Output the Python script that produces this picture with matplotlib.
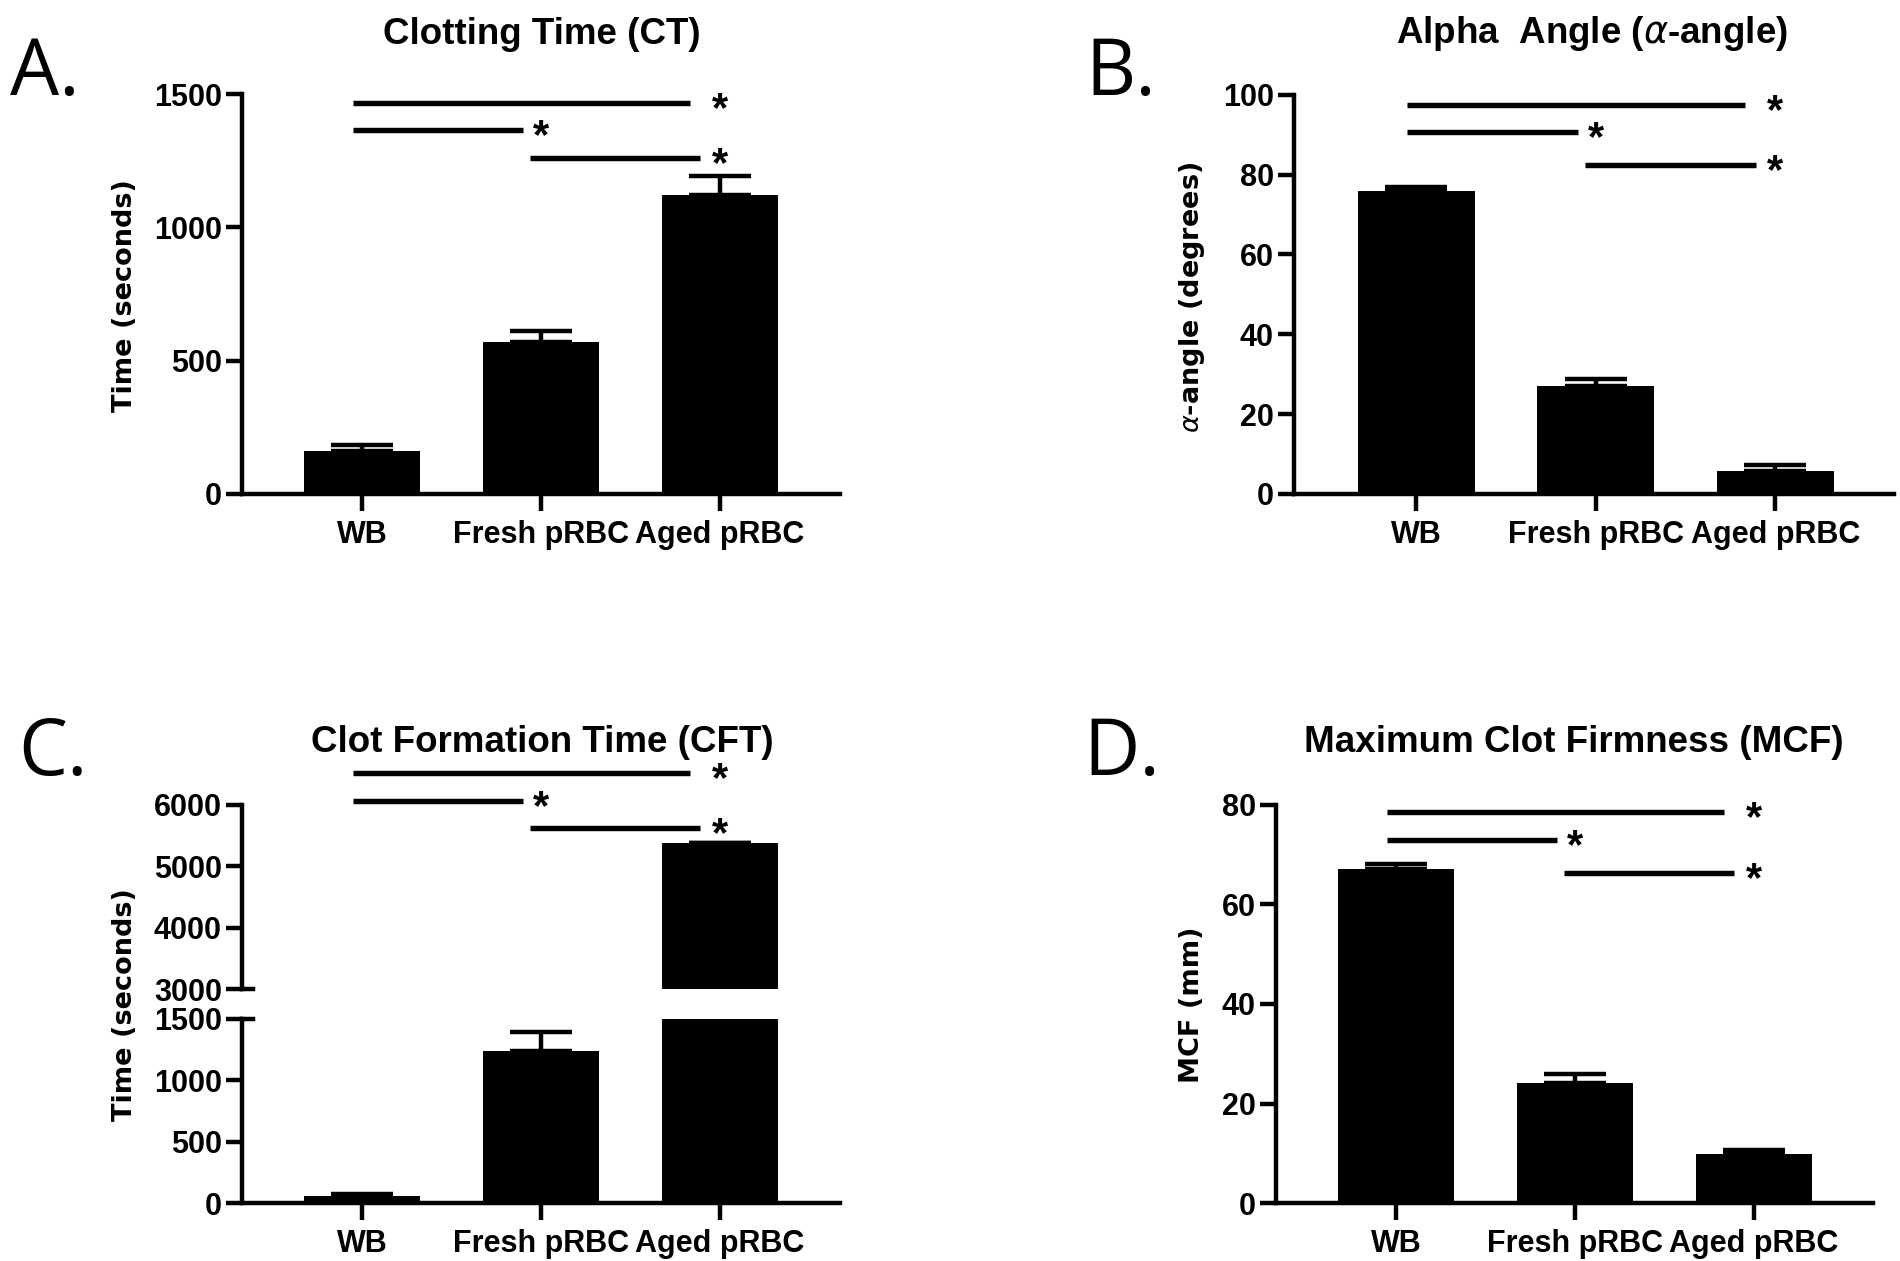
import matplotlib.pyplot as plt
import numpy as np

groups = ["WB", "Fresh pRBC", "Aged pRBC"]

ctMean = [163, 570, 1123]
ctErr = [21, 41, 70]
ctSig = [1468, 1365, 1261]

alphaMean = [75.8, 27.0, 5.8]
alphaErr = [1.0, 1.9, 1.4]
alphaSig = [97.5, 90.7, 82.4]

cftMean = [60, 1240, 5380]
cftErr = [15, 155, 0]
cftSig = [6511, 6060, 5625]

mcfMean = [67.0, 24.2, 10.0]
mcfErr = [1.0, 1.8, 0.8]
mcfSig = [78.4, 72.8, 66.2]

W, H = 1900, 1261
LW = 3.2

plt.rcParams["font.family"] = "Liberation Sans"
plt.rcParams["font.weight"] = "bold"
plt.rcParams["xtick.labelsize"] = 22
plt.rcParams["ytick.labelsize"] = 22
# keep the greek alpha a light italic like the original
plt.rcParams["mathtext.fontset"] = "custom"
plt.rcParams["mathtext.it"] = "DejaVu Sans:italic:weight=normal"
plt.rcParams["mathtext.rm"] = "DejaVu Sans:weight=normal"

labelFont = dict(family="DejaVu Sans", fontweight="bold", fontsize=19.5)
titleFont = dict(family="Liberation Sans", fontweight="bold", fontsize=26.5)
letterFont = dict(family="Open Sans", fontweight="normal", fontsize=56)

fig = plt.figure(figsize=(19, 12.61), dpi=100)
x = np.arange(len(groups))


def axesAt(left, top, right, bottom):
    return fig.add_axes([left / W, 1 - bottom / H, (right - left) / W, (bottom - top) / H])


def figText(px, py, s, **kw):
    fig.text(px / W, 1 - py / H, s, **kw)


def styleAxes(ax, xlim):
    ax.spines["top"].set_visible(False)
    ax.spines["right"].set_visible(False)
    ax.spines["left"].set_linewidth(LW)
    ax.spines["bottom"].set_linewidth(LW)
    ax.tick_params(axis="y", length=11.5, width=LW, pad=3)
    ax.tick_params(axis="x", length=12.5, width=LW, pad=6)
    ax.set_xlim(*xlim)
    ax.set_xticks(x)
    ax.set_xticklabels(groups)


def drawBars(ax, mean, err):
    ax.bar(x, mean, width=0.65, color="black")
    ax.errorbar(x, mean, yerr=[np.zeros(len(err)), err], fmt="none", ecolor="black",
                elinewidth=LW, capsize=22, capthick=LW)


def drawSig(ax, ys):
    spans = [(-0.05, 1.83, 2), (-0.05, 0.9, 1), (0.94, 1.89, 2)]
    for y, (x0, x1, xs) in zip(ys, spans):
        ax.plot([x0, x1], [y, y], color="black", lw=3.9, clip_on=False, solid_capstyle="butt")
        ax.annotate("*", (xs, y), xytext=(0, -13), textcoords="offset points", ha="center",
                    va="baseline", fontsize=30, fontweight="bold", annotation_clip=False)


# A. clotting time
axA = axesAt(242, 94, 840, 494)
styleAxes(axA, (-0.67, 2.67))
drawBars(axA, ctMean, ctErr)
axA.set_ylim(0, 1500)
axA.set_yticks([0, 500, 1000, 1500])
drawSig(axA, ctSig)
figText(10, 95, "A.", ha="left", va="baseline", **letterFont)
figText(542, 44, "Clotting Time (CT)", ha="center", va="baseline", **titleFont)
figText(125, 296, "Time (seconds)", ha="center", va="center", rotation=90, **labelFont)

# B. alpha angle
axB = axesAt(1294, 94.8, 1894, 494)
styleAxes(axB, (-0.68, 2.66))
drawBars(axB, alphaMean, alphaErr)
axB.set_ylim(0, 100)
axB.set_yticks([0, 20, 40, 60, 80, 100])
drawSig(axB, alphaSig)
figText(1085, 95, "B.", ha="left", va="baseline", **letterFont)
figText(1592, 43, r"Alpha  Angle ($\mathit{\alpha}$-angle)", ha="center", va="baseline", **titleFont)
figText(1192, 297, r"$\mathit{\alpha}$-angle (degrees)", ha="center", va="center", rotation=90, **labelFont)

# C. clot formation time (broken axis)
axCl = axesAt(242, 1019, 840, 1203.4)
styleAxes(axCl, (-0.67, 2.67))
drawBars(axCl, cftMean, cftErr)
axCl.set_ylim(0, 1500)
axCl.set_yticks([0, 500, 1000, 1500])
axCl.plot([0, 0.018], [1, 1], transform=axCl.transAxes, color="black", lw=LW, clip_on=False)

axCu = axesAt(242, 804.5, 840, 989.3)
styleAxes(axCu, (-0.67, 2.67))
axCu.spines["bottom"].set_visible(False)
axCu.tick_params(axis="x", length=0, labelbottom=False)
drawBars(axCu, cftMean, cftErr)
axCu.set_ylim(3000, 6000)
axCu.set_yticks([3000, 4000, 5000, 6000])
axCu.plot([0, 0.018], [0, 0], transform=axCu.transAxes, color="black", lw=LW, clip_on=False)
drawSig(axCu, cftSig)
figText(18, 775, "C.", ha="left", va="baseline", **letterFont)
figText(542, 752, "Clot Formation Time (CFT)", ha="center", va="baseline", **titleFont)
figText(125, 1005, "Time (seconds)", ha="center", va="center", rotation=90, **labelFont)

# D. maximum clot firmness
axD = axesAt(1276, 804.5, 1873, 1203.4)
styleAxes(axD, (-0.67, 2.665))
drawBars(axD, mcfMean, mcfErr)
axD.set_ylim(0, 80)
axD.set_yticks([0, 20, 40, 60, 80])
drawSig(axD, mcfSig)
figText(1083, 775, "D.", ha="left", va="baseline", **letterFont)
figText(1574, 752, "Maximum Clot Firmness (MCF)", ha="center", va="baseline", **titleFont)
figText(1192, 1005, "MCF (mm)", ha="center", va="center", rotation=90, **labelFont)

plt.savefig("out.png", dpi=100)
